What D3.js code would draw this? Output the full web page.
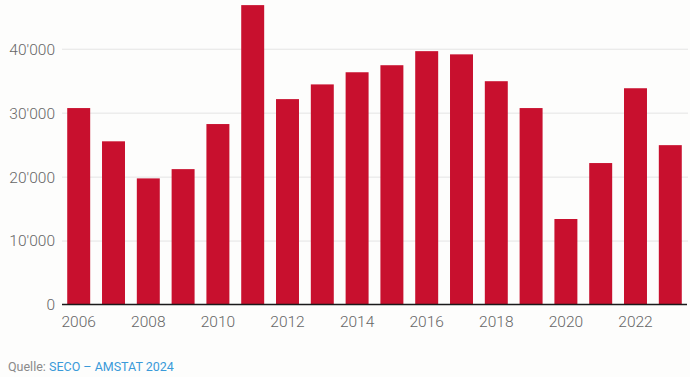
<!DOCTYPE html>
<html>
<head>
<meta charset="utf-8">
<script src="https://cdn.jsdelivr.net/npm/d3@7"></script>
<style>
  body { margin: 0; background: #fdfdfc; }
  svg { display: block; font-family: "Roboto", "Open Sans", sans-serif; font-weight: 300; }
</style>
</head>
<body>
<div id="chart"></div>
<script>
const years = [2006, 2007, 2008, 2009, 2010, 2011, 2012, 2013, 2014, 2015, 2016, 2017, 2018, 2019, 2020, 2021, 2022, 2023];
const values = [30800, 25600, 19800, 21250, 28300, 46900, 32200, 34500, 36400, 37500, 39700, 39200, 35000, 30800, 13450, 22200, 33900, 25000];
const yTicks = [0, 10000, 20000, 30000, 40000];
const xTickYears = [2006, 2008, 2010, 2012, 2014, 2016, 2018, 2020, 2022];

const w = 690;
const h = 377;
const pLeft = 62;
const pRight = 688;
const pTop = 0;
const pBottom = 305;

const barColor = '#c8102e';
const textColor = '#666666';

const svg = d3.select("#chart")
    .append("svg")
    .attr("width", w)
    .attr("height", h);

const xScale = d3.scaleBand()
    .domain(years)
    .range([pLeft, pRight - 1])
    .paddingInner(0.34)
    .paddingOuter(0.15);

const yScale = d3.scaleLinear()
    .domain([0, 47700])
    .range([pBottom, pTop]);

// gridlines
svg.append("g")
    .selectAll("line")
    .data(yTicks.filter(d => d > 0))
    .enter()
    .append("line")
    .attr("x1", pLeft)
    .attr("x2", pRight)
    .attr("y1", d => yScale(d))
    .attr("y2", d => yScale(d))
    .attr("stroke", "#e4e4e4")
    .attr("stroke-width", 1);

// y labels
const fmt = d => d3.format(",")(d).replace(/,/g, "'");
svg.append("g")
    .selectAll("text")
    .data(yTicks)
    .enter()
    .append("text")
    .attr("x", 55)
    .attr("y", d => yScale(d))
    .attr("dy", "0.35em")
    .attr("text-anchor", "end")
    .attr("fill", textColor)
    .attr("font-size", 15.5)
    .text(fmt);

// bars
svg.append("g")
    .selectAll("rect")
    .data(years)
    .enter()
    .append("rect")
    .attr("x", d => xScale(d))
    .attr("width", xScale.bandwidth())
    .attr("y", (d, i) => yScale(values[i]))
    .attr("height", (d, i) => yScale(0) - yScale(values[i]))
    .attr("fill", barColor);

// baseline
svg.append("line")
    .attr("x1", pLeft)
    .attr("x2", pRight - 1)
    .attr("y1", yScale(0) - 0.5)
    .attr("y2", yScale(0) - 0.5)
    .attr("stroke", "#1a1a1a")
    .attr("stroke-width", 1.5);

// x labels
svg.append("g")
    .selectAll("text")
    .data(xTickYears)
    .enter()
    .append("text")
    .attr("x", d => xScale(d) + xScale.bandwidth() / 2)
    .attr("y", 327)
    .attr("text-anchor", "middle")
    .attr("fill", textColor)
    .attr("font-size", 15.5)
    .text(d => d);

// source
const src = svg.append("text")
    .attr("x", 8)
    .attr("y", 371)
    .attr("font-size", 12.5)
    .attr("font-weight", 400);
src.append("tspan").attr("fill", "#8a8a8a").text("Quelle: ");
src.append("tspan").attr("fill", "#3a9ad9").text("SECO – AMSTAT 2024");
</script>
</body>
</html>
